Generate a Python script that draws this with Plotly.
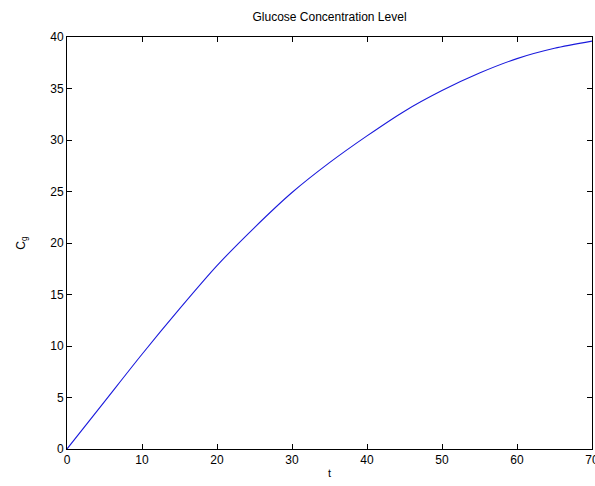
import plotly.graph_objects as go

t_vals = [0, 5, 10, 15, 20, 25, 30, 35, 40, 45, 50, 55, 60, 65, 70]
cg_vals = [0, 4.6, 9.2, 13.6, 17.8, 21.5, 24.9, 27.8, 30.4, 32.8, 34.8, 36.5, 37.9, 38.9, 39.6]

x_ticks = [0, 10, 20, 30, 40, 50, 60, 70]
y_ticks = [0, 5, 10, 15, 20, 25, 30, 35, 40]

fig = go.Figure()
fig.add_trace(go.Scatter(
    x=t_vals, y=cg_vals, mode="lines",
    line=dict(color="#1a1adc", width=1.1, shape="spline", smoothing=0.8),
    hoverinfo="skip", showlegend=False,
))

font_family = "Liberation Sans, Arial, sans-serif"
axis_common = dict(
    showgrid=False, zeroline=False, showline=True, linecolor="black", linewidth=1,
    mirror="allticks", ticks="inside", ticklen=5, tickcolor="black", tickwidth=1,
    automargin=False, ticklabeloverflow="allow",
    tickfont=dict(family=font_family, size=12, color="black"),
)

fig.update_layout(
    width=595, height=486,
    margin=dict(l=67, r=3, t=37, b=37),
    paper_bgcolor="white", plot_bgcolor="white",
    title=dict(text="Glucose Concentration Level", x=0.5, xref="paper", xanchor="center",
               y=1 - 17 / 486, yref="container", yanchor="middle",
               font=dict(family=font_family, size=12, color="black")),
    xaxis=dict(range=[0, 70], tickvals=x_ticks, ticktext=[str(v) for v in x_ticks],
               title=dict(text="t", standoff=2, font=dict(family=font_family, size=11, color="black")),
               **axis_common),
    yaxis=dict(range=[0, 40], tickvals=y_ticks, ticktext=[str(v) for v in y_ticks],
               title=dict(text="C<sub>g</sub>", standoff=22, font=dict(family=font_family, size=12, color="black")),
               **axis_common),
)

fig.write_html("out.html", config={"displayModeBar": False},
               post_script="document.body.style.margin='0';document.body.style.overflow='hidden';")
